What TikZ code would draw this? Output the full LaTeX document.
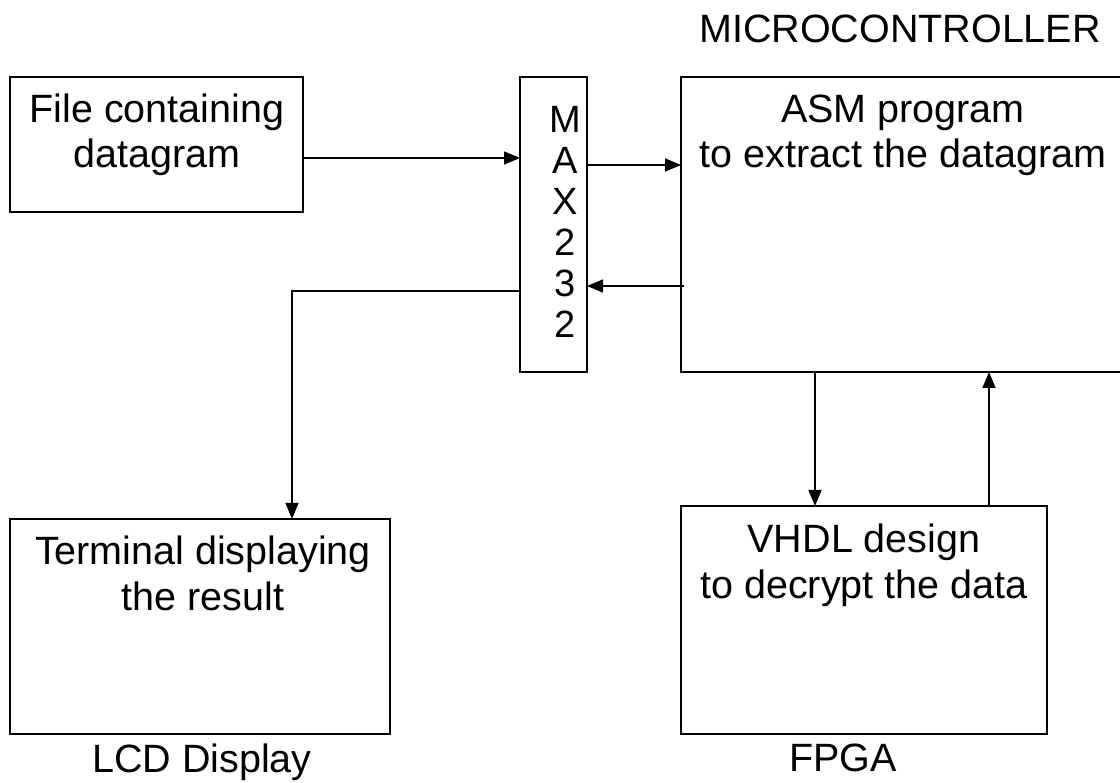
\documentclass[tikz,border=0pt]{standalone}
\usepackage{fontspec}
\setmainfont{Liberation Sans}
\usetikzlibrary{arrows.meta}

\tikzset{
  blk/.style={draw, line width=1.7pt, inner sep=0pt, outer sep=0pt, anchor=north west},
  txt/.style={anchor=base, inner sep=0pt, font=\fontsize{39.5}{45}\selectfont},
  chip/.style={anchor=base, inner sep=0pt, font=\fontsize{38}{41}\selectfont},
  arr/.style={line width=1.5pt, -{Triangle[length=16pt,width=13pt]}},
  wire/.style={line width=1.5pt}
}

\begin{document}
\begin{tikzpicture}[x=1pt, y=-1pt]
\useasboundingbox (0,0) rectangle (1120,783);

% blocks
\node[blk, minimum width=293pt, minimum height=135pt] (file) at (10,77) {};
\node[blk, minimum width=67pt, minimum height=295pt] (max) at (520,77) {};
\node[blk, minimum width=444pt, minimum height=295pt] (micro) at (681,77) {};
\node[blk, minimum width=380pt, minimum height=215pt] (term) at (10,519) {};
\node[blk, minimum width=366pt, minimum height=228pt] (fpga) at (681,506) {};

% block texts
\node[txt] (file1) at (157,123) {File containing};
\node[txt] (file2) at (157,168) {datagram};
\node[txt] (mctitle) at (900,43) {MICROCONTROLLER};
\node[txt] (micro1) at (903,123) {ASM program};
\node[txt] (micro2) at (903,168) {to extract the datagram};
\node[txt] (term1) at (203,565) {Terminal displaying};
\node[txt] (term2) at (203,610) {the result};
\node[txt] (lcd) at (202,772) {LCD Display};
\node[txt] (fpga1) at (864,553) {VHDL design};
\node[txt] (fpga2) at (864,598) {to decrypt the data};
\node[txt] (fpgatitle) at (843,771) {FPGA};

% MAX232 written vertically
\foreach \ch [count=\i] in {M,A,X,2,3,2}
  \node[chip] (mx\i) at (565,92+41*\i) {\ch};

% connection points
\coordinate (a1) at ([yshift=-81pt]file.north east);
\coordinate (a2) at ([yshift=-88pt]max.north east);
\coordinate (a3) at ([yshift=-209pt,xshift=3pt]micro.north west);
\coordinate (a4) at ([yshift=-214pt]max.north west);
\coordinate (t4) at ([xshift=282pt]term.north west);
\coordinate (a5) at ([xshift=134pt]micro.south west);
\coordinate (a6) at ([xshift=308pt]fpga.north west);

% connectors
\draw[arr] (a1) -- (a1 -| max.west);
\draw[arr] (a2) -- (a2 -| micro.west);
\draw[arr] (a3) -- (a3 -| max.east);
\draw[arr] (a4) -| (t4);
\draw[arr] (a5) -- (a5 |- fpga.north);
\draw[arr] (a6) -- (a6 |- micro.south);
\end{tikzpicture}
\end{document}
